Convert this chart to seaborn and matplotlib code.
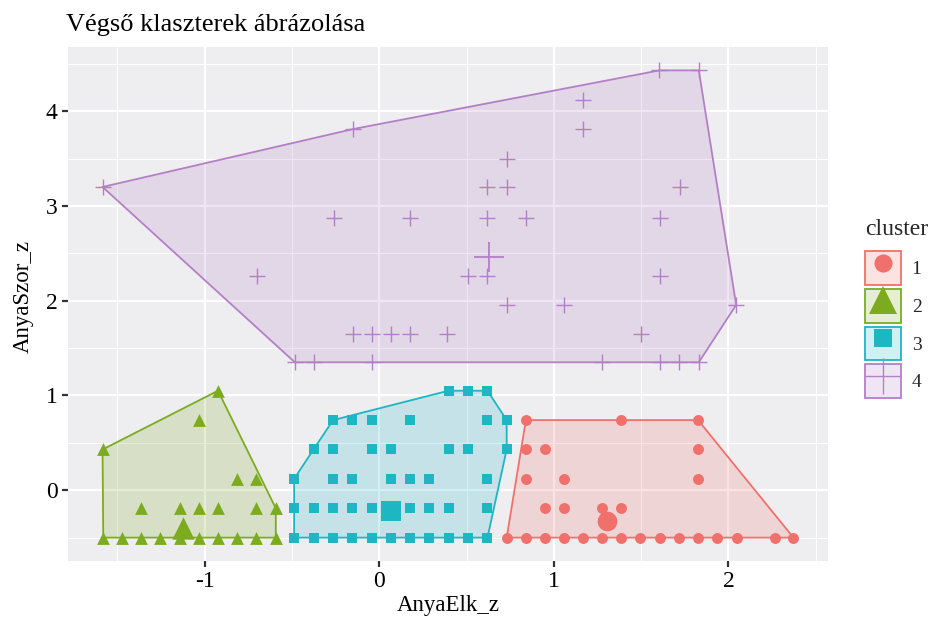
import numpy as np
import pandas as pd
import matplotlib
matplotlib.use("Agg")
import matplotlib.pyplot as plt
import seaborn as sns
from matplotlib.patches import Patch
from matplotlib.lines import Line2D
from matplotlib.legend_handler import HandlerTuple

# ---------------- data ----------------
cluster_labels = ["1", "2", "3", "4"]

c1_x = [0.84, 1.387, 1.826,
        0.84, 0.95, 1.826,
        0.84, 1.06, 1.826,
        0.95, 1.06, 1.276, 1.387,
        0.73, 0.84, 0.95, 1.06, 1.166, 1.276, 1.387, 1.496, 1.606, 1.715, 1.826, 1.937, 2.046, 2.268, 2.372]
c1_y = [0.74, 0.74, 0.74,
        0.43, 0.43, 0.43,
        0.12, 0.12, 0.12,
        -0.19, -0.19, -0.19, -0.19,
        -0.50, -0.50, -0.50, -0.50, -0.50, -0.50, -0.50, -0.50, -0.50, -0.50, -0.50, -0.50, -0.50, -0.50, -0.50]

c2_x = [-0.923, -1.03, -1.584, -0.812, -0.703,
        -1.362, -1.142, -1.032, -0.923, -0.703, -0.592,
        -1.58, -1.473, -1.364, -1.255, -1.142, -1.032, -0.923, -0.812, -0.703, -0.592]
c2_y = [1.05, 0.74, 0.43, 0.12, 0.12,
        -0.19, -0.19, -0.19, -0.19, -0.19, -0.19,
        -0.50, -0.50, -0.50, -0.50, -0.50, -0.50, -0.50, -0.50, -0.50, -0.50]

c3_x = [0.397, 0.51, 0.62,
        -0.264, -0.153, -0.044, 0.178, 0.62, 0.73,
        -0.376, -0.264, -0.044, 0.067, 0.397, 0.51, 0.73,
        -0.487, -0.264, -0.153, 0.067, 0.178, 0.287, 0.62,
        -0.487, -0.376, -0.264, -0.153, -0.044, 0.067, 0.178, 0.287, 0.397, 0.62,
        -0.487, -0.376, -0.264, -0.153, -0.044, 0.067, 0.178, 0.287, 0.397, 0.51, 0.62]
c3_y = [1.05, 1.05, 1.05,
        0.74, 0.74, 0.74, 0.74, 0.74, 0.74,
        0.43, 0.43, 0.43, 0.43, 0.43, 0.43, 0.43,
        0.12, 0.12, 0.12, 0.12, 0.12, 0.12, 0.12,
        -0.19, -0.19, -0.19, -0.19, -0.19, -0.19, -0.19, -0.19, -0.19, -0.19,
        -0.50, -0.50, -0.50, -0.50, -0.50, -0.50, -0.50, -0.50, -0.50, -0.50, -0.50]

c4_x = [-1.584, -0.151, -0.258, 0.174, -0.70,
        -0.151, -0.042, 0.067, 0.174, 0.39,
        -0.483, -0.372, -0.042,
        1.605, 1.83, 1.165, 1.165, 0.73, 0.617, 0.73, 1.725,
        0.617, 0.84, 1.608, 0.51, 0.617, 1.608,
        0.73, 1.06, 2.044, 1.5,
        1.276, 1.608, 1.719, 1.83]
c4_y = [3.20, 3.81, 2.875, 2.875, 2.26,
        1.645, 1.645, 1.645, 1.645, 1.645,
        1.35, 1.35, 1.35,
        4.43, 4.43, 4.116, 3.81, 3.50, 3.20, 3.20, 3.20,
        2.875, 2.875, 2.875, 2.26, 2.26, 2.26,
        1.955, 1.955, 1.955, 1.645,
        1.35, 1.35, 1.35, 1.35]

centroid_x = [1.305, -1.123, 0.067, 0.627]
centroid_y = [-0.32, -0.40, -0.215, 2.466]

x_ticks = [-1, 0, 1, 2]
y_ticks = [0, 1, 2, 3, 4]

title = "Végső klaszterek ábrázolása"
x_label = "AnyaElk_z"
y_label = "AnyaSzor_z"

# ---------------- styling ----------------
colors = ["#F0706B", "#7DAB1F", "#1DB6C3", "#B47FC6"]
markers = ["o", "^", "s", "+"]
pt_sizes = [62, 85, 50, 130]
big_sizes = [200, 260, 210, 460]
leg_ms = [13, 20, 13, 26]

sns.set_theme(style="darkgrid")
plt.rcParams["font.family"] = ["Liberation Serif", "DejaVu Serif"]

fig = plt.figure(figsize=(9.30, 6.17), dpi=100)
ax = fig.add_axes([68 / 930, 1 - 561 / 617, 760 / 930, 514 / 617])
ax.set_facecolor("#EEEEF0")

xs = [c1_x, c2_x, c3_x, c4_x]
ys = [c1_y, c2_y, c3_y, c4_y]


def convex_hull(pts):
    pts = sorted(set(pts))
    if len(pts) <= 2:
        return pts

    def cross(o, a, b):
        return (a[0] - o[0]) * (b[1] - o[1]) - (a[1] - o[1]) * (b[0] - o[0])

    lower = []
    for p in pts:
        while len(lower) >= 2 and cross(lower[-2], lower[-1], p) <= 0:
            lower.pop()
        lower.append(p)
    upper = []
    for p in reversed(pts):
        while len(upper) >= 2 and cross(upper[-2], upper[-1], p) <= 0:
            upper.pop()
        upper.append(p)
    return lower[:-1] + upper[:-1]


frames = []
for i in range(4):
    hull = convex_hull(list(zip(xs[i], ys[i])))
    hx = [p[0] for p in hull] + [hull[0][0]]
    hy = [p[1] for p in hull] + [hull[0][1]]
    ax.fill(hx, hy, color=colors[i], alpha=0.2, zorder=1, lw=0)
    ax.plot(hx, hy, color=colors[i], lw=1.3, zorder=2)
    frames.append(pd.DataFrame({"x": xs[i], "y": ys[i], "cluster": cluster_labels[i]}))

for i in range(4):
    df = frames[i]
    if markers[i] == "+":
        sns.scatterplot(data=df, x="x", y="y", marker="+", s=pt_sizes[i], color=colors[i],
                        linewidth=1.0, ax=ax, legend=False, zorder=3)
    else:
        sns.scatterplot(data=df, x="x", y="y", marker=markers[i], s=pt_sizes[i], color=colors[i],
                        linewidth=0, ax=ax, legend=False, zorder=3)

cent = pd.DataFrame({"x": centroid_x, "y": centroid_y, "cluster": cluster_labels})
for i in range(4):
    row = cent.iloc[[i]]
    if markers[i] == "+":
        sns.scatterplot(data=row, x="x", y="y", marker="+", s=big_sizes[i], color=colors[i],
                        linewidth=1.3, ax=ax, legend=False, zorder=4)
    else:
        sns.scatterplot(data=row, x="x", y="y", marker=markers[i], s=big_sizes[i], color=colors[i],
                        linewidth=0, ax=ax, legend=False, zorder=4)

ax.margins(x=0.05, y=0.05)
ax.set_xticks(x_ticks)
ax.set_yticks(y_ticks)
ax.set_xticklabels([str(t) for t in x_ticks])
ax.set_yticklabels([str(t) for t in y_ticks])
ax.xaxis.set_minor_locator(matplotlib.ticker.MultipleLocator(0.5))
ax.yaxis.set_minor_locator(matplotlib.ticker.MultipleLocator(0.5))
ax.grid(which="major", color="white", lw=1.6)
ax.grid(which="minor", color="white", lw=0.8)
ax.tick_params(which="major", length=4.5, width=1.6, color="#333333", labelsize=17,
               labelcolor="black", pad=3, bottom=True, left=True)
ax.tick_params(which="minor", length=0)
for s in ax.spines.values():
    s.set_visible(False)

ax.set_xlabel(x_label, fontsize=16.5, color="black")
ax.set_ylabel(y_label, fontsize=16.5, color="black")
ax.xaxis.set_label_coords(0.5, -0.066)
ax.yaxis.set_label_coords(-0.045, 0.515)

fig.text(66 / 930, 1 - 25 / 617, title, fontsize=19, ha="left", va="center", color="black")

handles = []
for i in range(4):
    p = Patch(facecolor=matplotlib.colors.to_rgba(colors[i], 0.2), edgecolor=colors[i], lw=1.3)
    if markers[i] == "+":
        m = Line2D([], [], ls="", marker="+", ms=leg_ms[i], mew=1.0, color=colors[i])
    else:
        m = Line2D([], [], ls="", marker=markers[i], ms=leg_ms[i], mew=0, color=colors[i])
    handles.append((p, m))

leg = ax.legend(handles, cluster_labels, title="cluster", loc="upper left",
                bbox_to_anchor=(865 / 930, 1 - 219 / 617), bbox_transform=fig.transFigure,
                frameon=False, borderpad=0, borderaxespad=0, fontsize=14,
                title_fontsize=17, handlelength=1.85, handleheight=2.3,
                labelspacing=0.2, handletextpad=0.55, alignment="left",
                handler_map={tuple: HandlerTuple(ndivide=1)})
leg._legend_box.sep = 8

fig.savefig("out.png", dpi=100)
